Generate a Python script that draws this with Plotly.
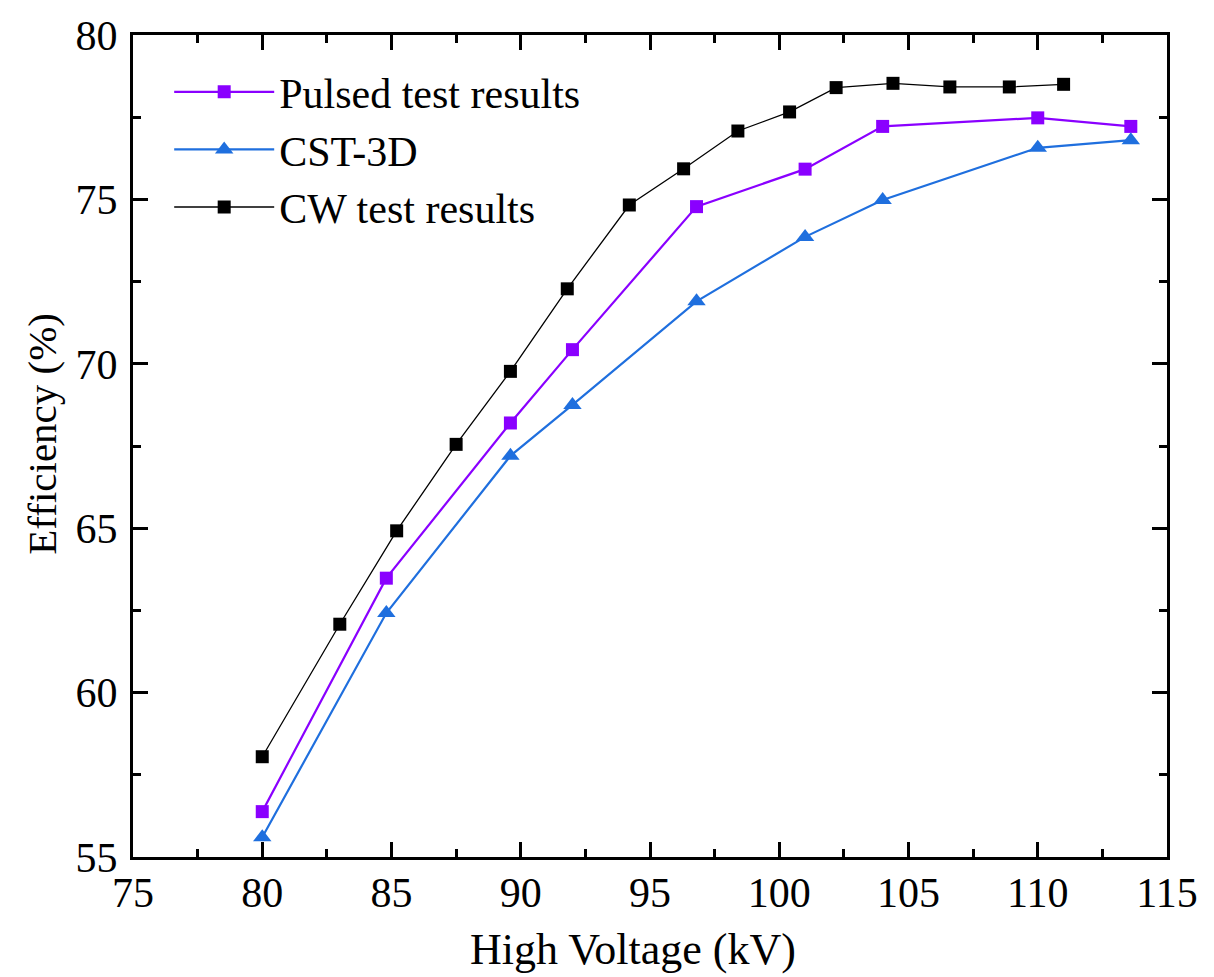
import plotly.graph_objects as go

# Data
pulsed_x = [80.0, 84.8, 89.6, 92.0, 96.8, 101.0, 104.0, 110.0, 113.6]
pulsed_y = [56.38, 63.48, 68.2, 70.43, 74.78, 75.92, 77.22, 77.48, 77.22]

cst_x = [80.0, 84.8, 89.6, 92.0, 96.8, 101.0, 104.0, 110.0, 113.6]
cst_y = [55.6, 62.42, 67.2, 68.75, 71.9, 73.86, 74.98, 76.57, 76.8]

cw_x = [80.0, 83.0, 85.2, 87.5, 89.6, 91.8, 94.2, 96.3, 98.4, 100.4, 102.2, 104.4, 106.6, 108.9, 111.0]
cw_y = [58.05, 62.08, 64.92, 67.55, 69.77, 72.28, 74.83, 75.93, 77.08, 77.66, 78.4, 78.53, 78.42, 78.42, 78.5]

x_ticks = [75, 80, 85, 90, 95, 100, 105, 110, 115]
y_ticks = [55, 60, 65, 70, 75, 80]

FONT = "Liberation Serif"
PURPLE = "#8A00FF"
BLUE = "#1F6FDE"
BLACK = "#000000"

fig = go.Figure()
fig.add_trace(go.Scatter(
    x=pulsed_x, y=pulsed_y, mode="lines+markers", name="Pulsed test results",
    line=dict(color=PURPLE, width=2.2),
    marker=dict(symbol="square", size=13, color=PURPLE),
))
fig.add_trace(go.Scatter(
    x=cst_x, y=cst_y, mode="lines+markers", name="CST-3D",
    line=dict(color=BLUE, width=2.2),
    marker=dict(symbol="triangle-up", size=16, color=BLUE),
))
fig.add_trace(go.Scatter(
    x=cw_x, y=cw_y, mode="lines+markers", name="CW test results",
    line=dict(color=BLACK, width=1.3),
    marker=dict(symbol="square", size=13, color=BLACK),
))

axis_common = dict(
    showline=True, linecolor="black", linewidth=3, mirror="allticks",
    ticks="inside", ticklen=15, tickwidth=2.5, tickcolor="black",
    showgrid=False, zeroline=False, automargin=False,
    ticklabeloverflow="allow",
    tickfont=dict(family=FONT, size=42, color="black"),
    minor=dict(ticks="inside", ticklen=8, tickwidth=2.5, tickcolor="black", dtick=2.5, showgrid=False),
)

fig.update_xaxes(
    range=[75, 115], tickvals=x_ticks, ticktext=[str(v) for v in x_ticks],
    ticklabelstandoff=-3,
    **axis_common,
)
fig.update_yaxes(
    range=[55, 80], tickvals=y_ticks, ticktext=[str(v) for v in y_ticks],
    ticklabelstandoff=4,
    **axis_common,
)

# axis titles
fig.add_annotation(
    text="High Voltage (kV)", xref="paper", yref="paper", x=0.484, y=-0.112,
    xanchor="center", yanchor="middle", showarrow=False,
    font=dict(family=FONT, size=44, color="black"),
)
fig.add_annotation(
    text="Efficiency (%)", xref="paper", yref="paper", x=-0.088, y=0.515,
    xanchor="center", yanchor="middle", showarrow=False, textangle=-90,
    font=dict(family=FONT, size=41, color="black"),
)

fig.update_layout(
    width=1206, height=969,
    margin=dict(l=125, r=47, t=27, b=120),
    paper_bgcolor="white", plot_bgcolor="white",
    showlegend=True,
    legend=dict(
        x=0.035, y=0.972, xanchor="left", yanchor="top",
        font=dict(family=FONT, size=42, color="black"),
        bgcolor="rgba(0,0,0,0)", itemwidth=100, tracegroupgap=0,
    ),
)

fig.write_html("out.html")
